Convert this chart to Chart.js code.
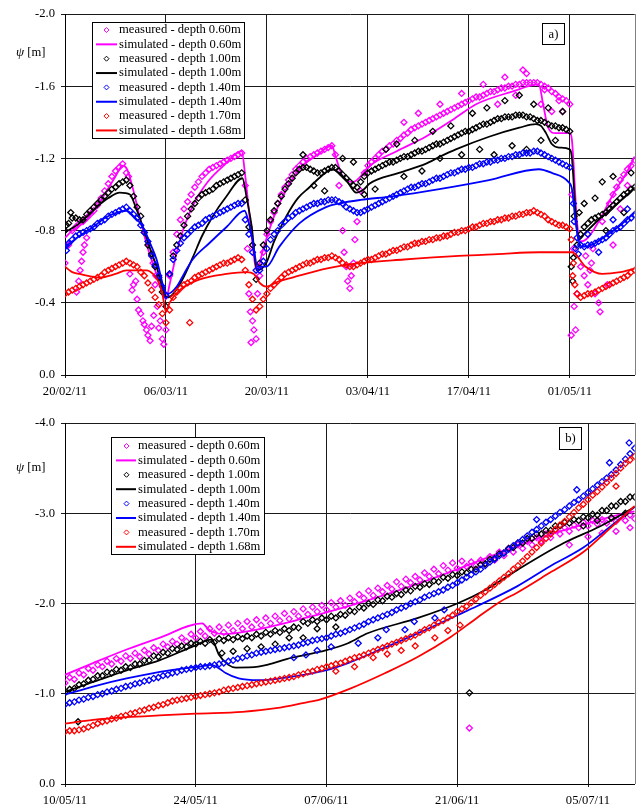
<!DOCTYPE html>
<html><head><meta charset="utf-8">
<script src="https://cdn.jsdelivr.net/npm/chart.js@4"></script>
<style>
html,body{margin:0;padding:0;background:#fff;}
#wrap{position:relative;width:640px;height:810px;}
canvas{position:absolute;left:0;}
</style></head>
<body><div id="wrap">
<canvas id="ca" width="640" height="405" style="top:0px"></canvas>
<canvas id="cb" width="640" height="405" style="top:405px"></canvas>
</div>
<script>
// ---------- axes / tick labels ----------
const dayTicksA = [0,14,28,42,56,70];
const dateLabelsA = ["20/02/11","06/03/11","20/03/11","03/04/11","17/04/11","01/05/11"];
const dayMaxA = 79;
const psiTicksA = [-2.0,-1.6,-1.2,-0.8,-0.4,0.0];
const dayTicksB = [0,14,28,42,56];
const dateLabelsB = ["10/05/11","24/05/11","07/06/11","21/06/11","05/07/11"];
const dayMaxB = 61;
const psiTicksB = [-4.0,-3.0,-2.0,-1.0,0.0];
const measStep = 0.5; // days between measured readings in the arrays

const seriesLabels = ["measured - depth 0.60m","simulated - depth 0.60m","measured - depth 1.00m","simulated - depth 1.00m",
  "measured - depth 1.40m","simulated - depth 1.40m","measured - depth 1.70m","simulated - depth 1.68m"];
const seriesColors = ["#ff00ff","#ff00ff","#000000","#000000","#0000ff","#0000ff","#ff0000","#ff0000"];

// ---------- panel a: measured (every 0.5 day from 20/02/11) ----------
const measA060 = [-0.62,-0.72,-0.80,-0.82,-0.84,-0.85,-0.87,-0.89,-0.91,-0.94,-0.98,-1.02,-1.06,-1.10,-1.13,-1.15,-1.17,-1.12,
 -0.56,-0.50,-0.42,-0.34,-0.28,-0.22,-0.27,-0.50,-0.26,-0.20,-0.25,
 -0.55,-0.68,-0.78,-0.86,-0.92,-0.96,-1.00,-1.04,-1.07,-1.10,-1.12,-1.14,-1.15,-1.16,-1.17,-1.18,-1.19,-1.20,-1.21,-1.22,-1.23,
 -1.05,-0.45,-0.30,-0.20,
 -0.55,-0.68,-0.78,-0.85,-0.90,-0.95,-1.00,-1.04,-1.08,-1.11,-1.14,-1.16,-1.18,-1.20,-1.21,-1.22,-1.23,-1.24,-1.25,-1.26,-1.27,
 -1.22,-1.05,-0.80,-0.60,-0.48,-0.62,-0.85,-1.02,-1.12,
 -1.16,-1.18,-1.20,-1.22,-1.24,-1.25,-1.27,-1.28,-1.30,-1.31,-1.33,-1.34,-1.36,-1.37,-1.38,-1.39,-1.40,-1.41,-1.42,-1.43,
 -1.44,-1.45,-1.46,-1.47,-1.48,-1.49,-1.50,-1.51,-1.52,-1.53,-1.54,-1.54,-1.55,-1.56,-1.57,-1.57,-1.58,-1.59,-1.59,-1.60,
 -1.60,-1.61,-1.61,-1.62,-1.62,-1.62,-1.62,-1.62,-1.61,-1.60,-1.59,-1.57,-1.56,-1.54,-1.53,-1.52,-1.50,
 -0.70,-0.45,-0.60,-0.55,-0.50,-0.62,-0.45,-0.40,-0.85,-0.90,-0.95,-1.00,-1.04,-1.08,-1.11,-1.14,-1.16,-1.19];
const measA100 = [-0.80,-0.84,-0.87,-0.87,-0.86,-0.86,-0.89,-0.91,-0.93,-0.95,-0.97,-0.99,-1.01,-1.03,-1.04,-1.06,-1.07,-1.08,
 -1.05,-0.99,-0.93,-0.88,-0.79,-0.72,-0.67,-0.60,-0.54,-0.46,-0.38,
 -0.56,-0.66,-0.72,-0.77,-0.83,-0.88,-0.92,-0.95,-0.98,-1.00,-1.01,-1.02,-1.03,-1.05,-1.06,-1.07,-1.08,-1.09,-1.10,-1.11,-1.12,
 -0.97,-0.82,-0.72,-0.53,
 -0.62,-0.72,-0.80,-0.86,-0.91,-0.95,-0.99,-1.03,-1.06,-1.09,-1.12,-1.14,-1.15,-1.15,-1.14,-1.13,-1.12,-1.12,-1.13,-1.14,-1.15,
 -1.15,-1.13,-1.11,-1.09,-1.07,-1.05,-1.04,-1.07,-1.10,
 -1.12,-1.13,-1.14,-1.15,-1.16,-1.17,-1.18,-1.18,-1.19,-1.20,-1.21,-1.21,-1.22,-1.23,-1.24,-1.24,-1.25,-1.26,-1.27,-1.28,
 -1.28,-1.29,-1.30,-1.31,-1.32,-1.33,-1.34,-1.35,-1.35,-1.36,-1.37,-1.38,-1.39,-1.39,-1.40,-1.41,-1.42,-1.42,-1.43,-1.43,
 -1.43,-1.44,-1.44,-1.44,-1.43,-1.43,-1.42,-1.41,-1.41,-1.40,-1.39,-1.38,-1.38,-1.37,-1.37,-1.36,-1.35,
 -0.65,-0.72,-0.78,-0.82,-0.84,-0.86,-0.87,-0.88,-0.89,-0.90,-0.92,-0.94,-0.96,-0.98,-1.00,-1.01,-1.03,-1.04];
const measA140 = [-0.71,-0.73,-0.75,-0.77,-0.78,-0.79,-0.80,-0.81,-0.82,-0.84,-0.85,-0.86,-0.88,-0.89,-0.90,-0.91,-0.92,-0.93,
 -0.91,-0.89,-0.87,-0.83,-0.79,-0.74,-0.66,-0.61,-0.55,-0.49,-0.44,
 -0.56,-0.64,-0.69,-0.73,-0.76,-0.78,-0.80,-0.82,-0.83,-0.84,-0.86,-0.87,-0.88,-0.89,-0.90,-0.91,-0.92,-0.93,-0.94,-0.95,-0.95,
 -0.86,-0.78,-0.68,-0.58,
 -0.58,-0.63,-0.70,-0.75,-0.78,-0.80,-0.83,-0.85,-0.87,-0.88,-0.90,-0.91,-0.92,-0.93,-0.94,-0.95,-0.95,-0.96,-0.96,-0.97,-0.97,
 -0.97,-0.96,-0.95,-0.93,-0.92,-0.91,-0.90,-0.90,-0.91,
 -0.92,-0.93,-0.94,-0.95,-0.96,-0.97,-0.98,-0.99,-1.00,-1.01,-1.02,-1.03,-1.04,-1.04,-1.05,-1.06,-1.06,-1.07,-1.08,-1.09,
 -1.09,-1.10,-1.11,-1.12,-1.12,-1.13,-1.14,-1.14,-1.15,-1.15,-1.16,-1.17,-1.17,-1.18,-1.18,-1.19,-1.19,-1.20,-1.20,-1.21,
 -1.21,-1.22,-1.22,-1.23,-1.23,-1.23,-1.24,-1.24,-1.23,-1.22,-1.21,-1.20,-1.19,-1.18,-1.17,-1.16,-1.15,
 -0.95,-0.76,-0.72,-0.71,-0.72,-0.72,-0.73,-0.74,-0.75,-0.76,-0.78,-0.80,-0.81,-0.82,-0.84,-0.86,-0.87,-0.89];
const measA170 = [-0.45,-0.46,-0.47,-0.48,-0.49,-0.50,-0.51,-0.52,-0.53,-0.54,-0.55,-0.57,-0.58,-0.59,-0.60,-0.61,-0.62,-0.63,
 -0.62,-0.61,-0.60,-0.57,-0.55,-0.51,-0.47,-0.43,-0.39,-0.34,-0.29,
 -0.36,-0.43,-0.46,-0.48,-0.50,-0.51,-0.52,-0.54,-0.55,-0.56,-0.57,-0.58,-0.59,-0.60,-0.61,-0.62,-0.62,-0.63,-0.64,-0.65,-0.64,
 -0.58,-0.50,-0.42,-0.36,
 -0.38,-0.42,-0.45,-0.48,-0.50,-0.52,-0.54,-0.56,-0.57,-0.58,-0.59,-0.60,-0.61,-0.62,-0.62,-0.63,-0.64,-0.64,-0.65,-0.65,-0.66,
 -0.65,-0.64,-0.62,-0.61,-0.60,-0.60,-0.61,-0.62,-0.63,
 -0.64,-0.64,-0.65,-0.66,-0.67,-0.67,-0.68,-0.69,-0.69,-0.70,-0.71,-0.71,-0.72,-0.73,-0.73,-0.74,-0.74,-0.75,-0.75,-0.76,
 -0.76,-0.77,-0.77,-0.78,-0.79,-0.79,-0.80,-0.80,-0.81,-0.82,-0.82,-0.83,-0.84,-0.84,-0.85,-0.85,-0.86,-0.86,-0.87,-0.87,
 -0.88,-0.88,-0.89,-0.89,-0.90,-0.90,-0.91,-0.90,-0.89,-0.88,-0.86,-0.85,-0.84,-0.83,-0.83,-0.82,-0.81,
 -0.62,-0.45,-0.43,-0.44,-0.45,-0.45,-0.46,-0.47,-0.48,-0.49,-0.50,-0.51,-0.52,-0.53,-0.54,-0.55,-0.57,-0.58];
// scattered readings off the main band: [day, psi]
const extraA060 = [[1.6,-0.46],[1.9,-0.52],[2.1,-0.58],[2.3,-0.63],[2.5,-0.68],[2.7,-0.72],[3.0,-0.76],[8.8,-1.10],[9.3,-0.47],[9.8,-0.52],
 [10.2,-0.36],[10.8,-0.30],[11.3,-0.25],[11.8,-0.19],[12.2,-0.62],[12.3,-0.33],[12.6,-0.55],[12.8,-0.38],[13.2,-0.30],[13.7,-0.17],
 [25.3,-0.70],[25.7,-0.35],[25.8,-0.18],[26.2,-0.25],[26.7,-0.45],[26.9,-0.60],[38.7,-0.68],[39.2,-0.52],[39.7,-0.55],[40.2,-0.75],
 [47,-1.40],[49,-1.45],[52,-1.50],[55,-1.56],[58,-1.61],[61,-1.65],[63.5,-1.69],[64,-1.67],[60,-1.50],[62.5,-1.55],[66,-1.50],
 [67.5,-1.46],[69,-1.46],[66.5,-1.58],[68.5,-1.52],[70.2,-0.22],[70.3,-1.00],[70.6,-0.38],[70.8,-0.25],[72.2,-0.66],[72.8,-0.58],
 [73.2,-0.70],[74.2,-0.35],[75.2,-0.50],[76,-0.72],[77,-0.92],[78,-1.05]];
const extraA100 = [[0.2,-0.83],[0.8,-0.90],[33,-1.22],[34.5,-1.05],[36,-1.02],[38.5,-1.20],[40,-1.18],[41.5,-1.00],[43,-1.03],[44.5,-1.25],
 [46,-1.28],[47,-1.10],[48.5,-1.30],[49.5,-1.13],[51,-1.35],[52,-1.20],[53.5,-1.38],[55,-1.22],[56.5,-1.45],[57.5,-1.25],[58.5,-1.48],
 [59.5,-1.22],[61,-1.52],[62,-1.27],[63,-1.55],[64,-1.25],[65,-1.50],[66,-1.30],[67,-1.48],[68,-1.30],[69,-1.46],[70.2,-0.60],
 [70.4,-0.52],[70.6,-0.88],[71.3,-0.90],[72,-0.95],[73.5,-0.98],[74.5,-1.07],[75,-0.80],[76,-1.10],[77.5,-0.90],[78.5,-1.12]];
const extraA140 = [[0.2,-0.69],[70.6,-0.85],[70.8,-0.70],[71.2,-0.67],[72.5,-0.78],[74,-0.68],[76,-0.86],[78,-0.92]];
const extraA170 = [[17.3,-0.29],[70.2,-0.75],[70.4,-0.55],[70.7,-0.50]];

// ---------- panel a: simulated [day, psi] ----------
const simA060 = [[0,-0.76],[1,-0.80],[3,-0.86],[5,-0.97],[7,-1.10],[8,-1.16],[8.6,-1.14],[9.5,-1.02],[10.5,-0.85],[11.5,-0.70],[12.5,-0.58],
 [13.5,-0.47],[14,-0.42],[14.5,-0.50],[15.5,-0.68],[16.5,-0.82],[18,-0.96],[20,-1.08],[22,-1.16],[24.5,-1.24],[25,-1.10],[25.8,-0.80],
 [26.6,-0.58],[27.5,-0.70],[29,-0.88],[31,-1.05],[33,-1.16],[35,-1.22],[37,-1.27],[37.6,-1.20],[38.5,-1.10],[40,-1.07],[41,-1.10],
 [42,-1.15],[46,-1.24],[50,-1.32],[54,-1.42],[57,-1.50],[62,-1.57],[65.7,-1.61],[66.3,-1.50],[67,-1.37],[68,-1.34],[70,-1.34],
 [70.3,-1.30],[71,-0.85],[71.5,-0.74],[72.5,-0.76],[74,-0.85],[76,-1.00],[78,-1.13],[79,-1.21]];
const simA100 = [[0,-0.79],[2,-0.84],[4.4,-0.93],[6,-0.98],[7.6,-1.01],[9,-1.00],[9.8,-0.93],[10.8,-0.82],[11.8,-0.70],[12.7,-0.60],
 [13.8,-0.45],[14.2,-0.43],[15,-0.45],[16.3,-0.53],[17.7,-0.65],[19,-0.77],[20.5,-0.88],[22.4,-0.99],[24.6,-1.09],[25.2,-0.98],
 [25.9,-0.82],[26.6,-0.58],[27.9,-0.62],[29,-0.74],[30.7,-0.88],[32.3,-0.98],[33.9,-1.04],[35.5,-1.10],[37,-1.14],[38,-1.12],
 [39,-1.08],[40.4,-1.01],[41.5,-1.03],[42.2,-1.06],[46.3,-1.12],[50,-1.17],[52,-1.21],[54.2,-1.25],[58.8,-1.32],[63,-1.37],
 [65.3,-1.39],[66,-1.38],[66.7,-1.34],[67.5,-1.28],[68.5,-1.26],[70,-1.25],[70.3,-1.20],[70.8,-0.90],[71.2,-0.75],[72.2,-0.79],
 [74,-0.86],[76,-0.93],[78,-1.00],[79,-1.04]];
const simA140 = [[0,-0.71],[2,-0.77],[3.9,-0.82],[5.5,-0.87],[7.2,-0.90],[8.5,-0.91],[9.5,-0.88],[10.8,-0.82],[11.8,-0.73],[12.7,-0.64],
 [13.8,-0.47],[14.3,-0.45],[15.5,-0.49],[16.5,-0.56],[17.7,-0.64],[20,-0.73],[22.4,-0.82],[24.9,-0.91],[25.5,-0.84],[26,-0.75],
 [26.7,-0.60],[27.9,-0.60],[29.7,-0.71],[32.5,-0.84],[36.2,-0.93],[38,-0.95],[41,-0.97],[45.4,-0.99],[51.9,-1.03],[58.8,-1.08],
 [65.7,-1.14],[67.5,-1.12],[69.8,-1.07],[70.3,-1.03],[70.8,-0.85],[71.2,-0.75],[71.7,-0.71],[73,-0.72],[75,-0.77],[77,-0.83],[79,-0.90]];
const simA168 = [[0,-0.60],[1,-0.57],[2,-0.56],[4.8,-0.54],[7,-0.56],[8.5,-0.58],[11.3,-0.58],[12.2,-0.56],[12.9,-0.52],[13.5,-0.45],
 [14,-0.35],[14.5,-0.40],[15.9,-0.47],[18.7,-0.53],[22.4,-0.56],[25.2,-0.57],[26.2,-0.56],[27,-0.51],[27.9,-0.49],[29.7,-0.52],
 [31.5,-0.54],[36.2,-0.59],[40.8,-0.62],[47,-0.64],[54.6,-0.66],[60,-0.67],[65.7,-0.68],[70.3,-0.68],[72.2,-0.60],[74.5,-0.56],
 [77,-0.57],[79,-0.59]];

// ---------- panel b: measured (every 0.5 day from 10/05/11) ----------
const measB060 = [-1.12,-1.18,-1.16,-1.23,-1.21,-1.28,-1.26,-1.32,-1.30,-1.36,-1.33,-1.39,-1.36,-1.42,-1.39,-1.45,-1.41,-1.48,-1.44,-1.51,
 -1.48,-1.55,-1.52,-1.58,-1.55,-1.62,-1.58,-1.66,-1.62,-1.69,-1.64,-1.72,-1.67,-1.74,-1.68,-1.76,-1.70,-1.78,-1.72,-1.80,
 -1.74,-1.82,-1.76,-1.84,-1.78,-1.86,-1.81,-1.89,-1.83,-1.91,-1.86,-1.94,-1.88,-1.96,-1.91,-1.98,-1.93,-2.01,-1.96,-2.03,
 -1.98,-2.06,-2.02,-2.10,-2.06,-2.14,-2.09,-2.17,-2.13,-2.20,-2.16,-2.24,-2.19,-2.27,-2.23,-2.30,-2.26,-2.34,-2.30,-2.38,
 -2.33,-2.42,-2.37,-2.45,-2.39,-2.47,-2.41,-2.46,-2.42,-2.48,-2.44,-2.52,-2.48,-2.57,-2.53,-2.61,-2.57,-2.65,-2.61,-2.69,
 -2.65,-2.73,-2.69,-2.77,-2.73,-2.81,-2.77,-2.84,-2.80,-2.87,-2.84,-2.90,-2.86,-2.92,-2.88,-2.93,-2.89,-2.95,-2.91,-2.96,
 -2.92,-2.98,-2.94];
const measB100 = [-1.01,-1.05,-1.06,-1.10,-1.11,-1.15,-1.16,-1.20,-1.20,-1.24,-1.23,-1.27,-1.26,-1.30,-1.29,-1.33,-1.33,-1.37,-1.37,-1.42,
 -1.41,-1.46,-1.45,-1.50,-1.49,-1.53,-1.52,-1.56,-1.55,-1.58,-1.56,-1.60,-1.57,-1.61,-1.59,-1.62,-1.60,-1.63,-1.61,-1.64,
 -1.62,-1.66,-1.64,-1.68,-1.66,-1.70,-1.68,-1.72,-1.70,-1.74,-1.73,-1.80,-1.78,-1.82,-1.80,-1.84,-1.82,-1.86,-1.84,-1.88,
 -1.87,-1.92,-1.91,-1.96,-1.95,-2.00,-1.99,-2.04,-2.03,-2.08,-2.07,-2.11,-2.10,-2.15,-2.14,-2.19,-2.18,-2.22,-2.21,-2.25,
 -2.24,-2.29,-2.28,-2.32,-2.31,-2.35,-2.34,-2.38,-2.38,-2.43,-2.44,-2.49,-2.50,-2.55,-2.56,-2.61,-2.62,-2.67,-2.67,-2.72,
 -2.72,-2.77,-2.77,-2.81,-2.81,-2.86,-2.86,-2.90,-2.89,-2.93,-2.92,-2.96,-2.95,-2.99,-2.98,-3.03,-3.03,-3.08,-3.08,-3.13,
 -3.13,-3.18,-3.18];
const measB140 = [-0.88,-0.90,-0.91,-0.93,-0.94,-0.96,-0.97,-0.99,-1.00,-1.02,-1.03,-1.05,-1.06,-1.08,-1.09,-1.11,-1.12,-1.14,-1.15,-1.17,
 -1.18,-1.20,-1.21,-1.23,-1.24,-1.26,-1.27,-1.28,-1.29,-1.30,-1.30,-1.31,-1.32,-1.33,-1.34,-1.36,-1.37,-1.39,-1.40,-1.42,
 -1.43,-1.45,-1.46,-1.47,-1.48,-1.49,-1.50,-1.51,-1.52,-1.53,-1.54,-1.56,-1.57,-1.59,-1.60,-1.61,-1.62,-1.64,-1.66,-1.67,
 -1.69,-1.71,-1.73,-1.75,-1.77,-1.80,-1.82,-1.84,-1.86,-1.88,-1.90,-1.93,-1.95,-1.97,-2.00,-2.02,-2.04,-2.07,-2.09,-2.11,
 -2.13,-2.15,-2.18,-2.20,-2.23,-2.26,-2.29,-2.32,-2.35,-2.38,-2.42,-2.46,-2.49,-2.53,-2.56,-2.60,-2.64,-2.67,-2.71,-2.75,
 -2.79,-2.82,-2.86,-2.90,-2.93,-2.97,-3.01,-3.04,-3.08,-3.12,-3.15,-3.19,-3.23,-3.27,-3.31,-3.35,-3.39,-3.43,-3.48,-3.54,
 -3.60,-3.66,-3.72];
const measB170 = [-0.58,-0.59,-0.59,-0.60,-0.61,-0.63,-0.65,-0.67,-0.69,-0.70,-0.72,-0.73,-0.75,-0.76,-0.78,-0.79,-0.81,-0.82,-0.84,-0.85,
 -0.87,-0.88,-0.90,-0.92,-0.93,-0.94,-0.95,-0.96,-0.97,-0.98,-0.99,-1.00,-1.01,-1.02,-1.04,-1.05,-1.06,-1.07,-1.08,-1.09,
 -1.10,-1.11,-1.12,-1.13,-1.14,-1.15,-1.16,-1.17,-1.18,-1.19,-1.21,-1.22,-1.24,-1.25,-1.27,-1.28,-1.30,-1.31,-1.33,-1.34,
 -1.36,-1.38,-1.40,-1.41,-1.43,-1.45,-1.47,-1.49,-1.51,-1.53,-1.55,-1.57,-1.59,-1.61,-1.63,-1.65,-1.68,-1.71,-1.73,-1.76,
 -1.79,-1.81,-1.84,-1.87,-1.91,-1.94,-1.97,-2.01,-2.05,-2.09,-2.13,-2.17,-2.21,-2.25,-2.29,-2.33,-2.38,-2.42,-2.47,-2.52,
 -2.57,-2.62,-2.67,-2.72,-2.77,-2.82,-2.87,-2.91,-2.96,-3.01,-3.06,-3.10,-3.15,-3.20,-3.24,-3.29,-3.34,-3.39,-3.44,-3.50,
 -3.55,-3.59,-3.63];
const extraB060 = [[43.3,-0.62],[54,-2.65],[56,-2.74],[57.5,-2.78],[59,-2.80],[60.5,-2.84]];
const extraB100 = [[1.4,-0.69],[43.3,-1.01],[16.8,-1.45],[18,-1.47],[19.5,-1.50],[21,-1.52],[22.5,-1.55],[24,-1.62],[25.5,-1.62],
 [27,-1.72],[29,-1.74],[55.5,-2.86],[57,-2.92],[58.5,-2.95],[60,-3.00]];
const extraB140 = [[24.5,-1.40],[25.8,-1.43],[27,-1.48],[28.5,-1.52],[31.4,-1.56],[33.5,-1.62],[34.4,-1.71],[36.4,-1.71],[37.4,-1.80],
 [39.6,-1.84],[40.6,-1.93],[50.5,-2.93],[54.8,-3.26],[58.3,-3.56],[60.4,-3.78]];
const extraB170 = [[29,-1.25],[31,-1.30],[33,-1.40],[34.5,-1.44],[36,-1.48],[37.5,-1.53],[39.6,-1.62],[41,-1.70],[42.3,-1.76],[59,-3.30]];

// ---------- panel b: simulated [day, psi] ----------
const simB060 = [[0,-1.21],[3,-1.34],[6.6,-1.49],[10.1,-1.62],[14.7,-1.78],[15.3,-1.72],[15.7,-1.69],[17,-1.66],[20,-1.70],[25,-1.82],
 [30,-1.96],[35,-2.12],[40,-2.30],[45,-2.50],[50,-2.70],[55,-2.86],[58,-2.95],[61,-3.02]];
const simB100 = [[0,-1.02],[3,-1.13],[6.6,-1.26],[10.1,-1.37],[13.6,-1.52],[15.7,-1.60],[16.5,-1.43],[17.5,-1.32],[18.3,-1.29],
 [20.7,-1.30],[24.3,-1.40],[27.9,-1.48],[30.3,-1.56],[32.4,-1.67],[37.8,-1.84],[42,-2.00],[45,-2.15],[48.4,-2.37],[53.4,-2.67],
 [57.2,-2.85],[61,-3.07]];
const simB140 = [[0,-0.99],[3,-1.08],[6.6,-1.17],[11.2,-1.26],[14.4,-1.30],[15.7,-1.32],[16.5,-1.28],[17.2,-1.23],[18.6,-1.17],
 [20.7,-1.15],[24.3,-1.19],[27.9,-1.26],[30.3,-1.34],[34,-1.50],[38,-1.68],[42,-1.87],[44.1,-1.97],[48.4,-2.19],[51.9,-2.41],
 [55.5,-2.62],[58,-2.82],[61,-3.07]];
const simB168 = [[0,-0.67],[3,-0.71],[6.6,-0.74],[10.1,-0.76],[14,-0.78],[19,-0.80],[22.6,-0.84],[26.1,-0.91],[27.1,-0.93],[30.6,-1.06],
 [34.3,-1.23],[37.8,-1.41],[41.3,-1.63],[44.1,-1.84],[46.6,-2.02],[48.4,-2.12],[51.9,-2.34],[55.5,-2.57],[58,-2.80],[61,-3.08]];

// ---------- build ----------
const FONT = '"Liberation Serif", "Times New Roman", serif';
function fromSeq(vals){ return vals.map((v,i)=>({x:i*measStep, y:v})); }
function fromPairs(arr){ return arr.map(p=>({x:p[0], y:p[1]})); }

function makeDatasets(meas, extras, sims){
  const ds = [];
  for (let k=0;k<4;k++){
    ds.push({label:seriesLabels[2*k], data: fromSeq(meas[k]).concat(fromPairs(extras[k])),
      pointStyle:'rectRot', pointRadius:3, borderWidth:1.3, borderColor:seriesColors[2*k],
      backgroundColor:'rgba(255,255,255,0)', showLine:false, order: 8-2*k});
    ds.push({label:seriesLabels[2*k+1], data: fromPairs(sims[k]), showLine:true, pointRadius:0,
      borderColor:seriesColors[2*k+1], borderWidth:1.8, cubicInterpolationMode:'monotone', fill:false, order: 7-2*k});
  }
  return ds;
}

const decor = {
  id:'decor',
  afterDraw(chart, args, o){
    const ctx = chart.ctx, a = chart.chartArea;
    ctx.save();
    ctx.strokeStyle = '#808080'; ctx.lineWidth = 1;
    ctx.beginPath(); ctx.moveTo(Math.round(a.right)+0.5, a.top); ctx.lineTo(Math.round(a.right)+0.5, a.bottom); ctx.stroke();
    // axis title
    ctx.fillStyle = '#000'; ctx.textBaseline = 'middle'; ctx.textAlign = 'left';
    ctx.font = 'italic 13px ' + FONT;
    ctx.fillText('\u03C8', o.titleX, o.titleY);
    const w = ctx.measureText('\u03C8').width;
    ctx.font = '12.6px ' + FONT;
    ctx.fillText(' [m]', o.titleX + w, o.titleY);
    // legend
    const L = o.legend;
    ctx.fillStyle = '#fff'; ctx.fillRect(L.x, L.y, L.w, L.h);
    ctx.strokeStyle = '#000'; ctx.lineWidth = 1;
    ctx.strokeRect(L.x+0.5, L.y+0.5, L.w, L.h);
    ctx.font = '12.6px ' + FONT;
    chart.data.datasets.forEach((d,i)=>{
      const cy = L.y + L.first + i*L.row;
      if (d.showLine){
        ctx.strokeStyle = d.borderColor; ctx.lineWidth = 2;
        ctx.beginPath(); ctx.moveTo(L.lx1, cy); ctx.lineTo(L.lx2, cy); ctx.stroke();
      } else {
        ctx.strokeStyle = d.borderColor; ctx.lineWidth = 1;
        const r = 2.5, mx = L.mx;
        ctx.beginPath(); ctx.moveTo(mx, cy-r); ctx.lineTo(mx+r, cy); ctx.lineTo(mx, cy+r); ctx.lineTo(mx-r, cy); ctx.closePath(); ctx.stroke();
      }
      ctx.fillStyle = '#000';
      ctx.fillText(d.label, L.tx, cy);
    });
    // panel tag
    const T = o.tag;
    ctx.fillStyle = '#fff'; ctx.fillRect(T.x, T.y, T.w, T.h);
    ctx.strokeStyle = '#000'; ctx.lineWidth = 1;
    ctx.strokeRect(T.x+0.5, T.y+0.5, T.w, T.h);
    ctx.fillStyle = '#000'; ctx.textAlign = 'center';
    ctx.font = '12.6px ' + FONT;
    ctx.fillText(T.text, T.x + T.w/2 + 0.5, T.y + T.h/2 + 1);
    ctx.restore();
  }
};

function makeChart(id, datasets, cfg){
  return new Chart(document.getElementById(id), {
    type:'scatter',
    data:{datasets},
    options:{
      responsive:false, animation:false, devicePixelRatio:1, events:[],
      layout:{padding:{top:cfg.padTop, right:3, left:0, bottom:0}},
      plugins:{legend:{display:false}, tooltip:{enabled:false}, decor:cfg.decor},
      scales:{
        x:{type:'linear', min:0, max:cfg.dayMax,
          afterBuildTicks:(s)=>{ s.ticks = cfg.dayTicks.map(v=>({value:v})); },
          afterFit:(s)=>{ s.height = cfg.xH; },
          ticks:{autoSkip:false, maxRotation:0, padding:6, color:'#000', font:{family:FONT, size:12.6},
            callback:(v,i)=>cfg.dateLabels[i]},
          grid:{color:'#1a1a1a', lineWidth:1, tickLength:3},
          border:{color:'#000', width:1}},
        y:{type:'linear', min:cfg.psiTicks[0], max:0, reverse:true,
          afterBuildTicks:(s)=>{ s.ticks = cfg.psiTicks.map(v=>({value:v})); },
          afterFit:(s)=>{ s.width = 65; },
          ticks:{padding:6, color:'#000', font:{family:FONT, size:12.6},
            callback:(v,i)=>cfg.psiTicks[i].toFixed(1)},
          grid:{color:'#1a1a1a', lineWidth:1, tickLength:4},
          border:{color:'#000', width:1}}
      }
    },
    plugins:[decor]
  });
}

makeChart('ca', makeDatasets([measA060,measA100,measA140,measA170],[extraA060,extraA100,extraA140,extraA170],[simA060,simA100,simA140,simA168]), {
  padTop:14, xH:30, dayMax:dayMaxA, dayTicks:dayTicksA, dateLabels:dateLabelsA, psiTicks:psiTicksA,
  decor:{titleX:16, titleY:53,
    legend:{x:92, y:22, w:152, h:116, first:8, row:14.35, lx1:96, lx2:117, mx:106.5, tx:119},
    tag:{x:542, y:23, w:22, h:21, text:'a)'}}
});
makeChart('cb', makeDatasets([measB060,measB100,measB140,measB170],[extraB060,extraB100,extraB140,extraB170],[simB060,simB100,simB140,simB168]), {
  padTop:18, xH:26, dayMax:dayMaxB, dayTicks:dayTicksB, dateLabels:dateLabelsB, psiTicks:psiTicksB,
  decor:{titleX:16, titleY:63,
    legend:{x:111, y:32, w:153, h:117, first:9, row:14.4, lx1:116, lx2:136, mx:126.5, tx:138},
    tag:{x:559, y:22, w:22, h:22, text:'b)'}}
});
</script>
</body></html>
